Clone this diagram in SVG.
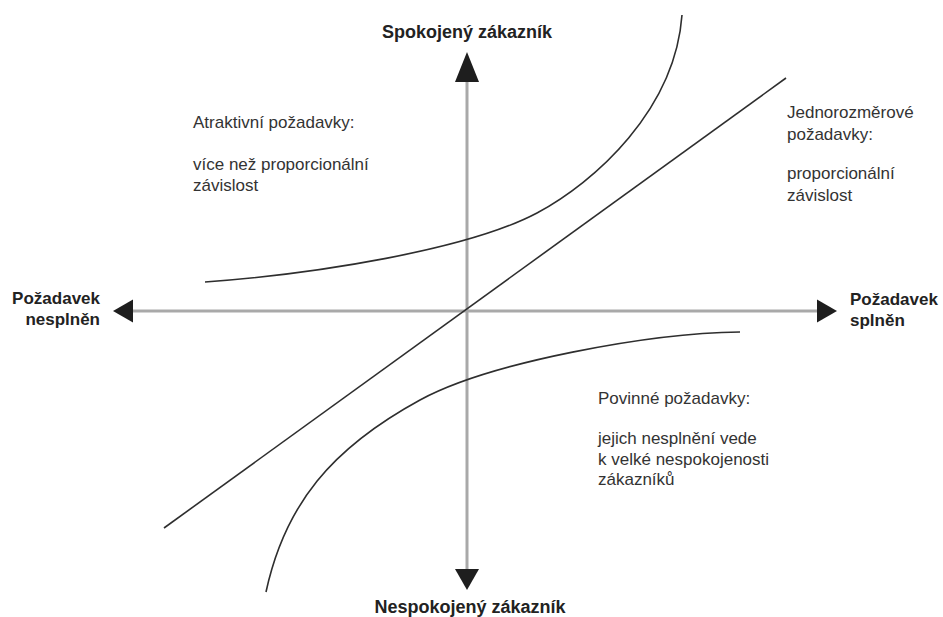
<svg xmlns="http://www.w3.org/2000/svg" width="943" height="617" viewBox="0 0 943 617">
<style>
.axis{stroke:#a9a9a9;stroke-width:3;fill:none}
.curve{stroke:#2e2e2e;stroke-width:1.6;fill:none}
.head{fill:#1e1e1e}
.lbl{font-family:"Liberation Sans",Arial,sans-serif;font-weight:bold;fill:#222}
.txt{font-family:"Liberation Sans",Arial,sans-serif;font-size:17px;fill:#333}
</style>
<rect width="943" height="617" fill="#fff"/>
<g id="connectors">
<line class="axis" x1="133" y1="311" x2="817" y2="311"/>
<line class="axis" x1="467" y1="80" x2="467" y2="570"/>
<polygon class="head" points="467,52 455,82 479,82"/>
<polygon class="head" points="467,590 455,569 479,569"/>
<polygon class="head" points="113,311 133,299.5 133,322.5"/>
<polygon class="head" points="837,311 817,299.5 817,322.5"/>
<line class="curve" x1="164" y1="528" x2="786" y2="78"/>
<path class="curve" d="M205,282 C315,274 467,250 537,213 C595,182 675,110 682,15"/>
<path class="curve" d="M740,332 C650,333 490,362 420,400 C332,448 285,504 266,592"/>
</g>
<g id="top-label"><text class="lbl" font-size="18" x="467" y="38" text-anchor="middle">Spokojený zákazník</text></g>
<g id="bottom-label"><text class="lbl" font-size="18" x="470" y="613" text-anchor="middle">Nespokojený zákazník</text></g>
<g id="left-label"><text class="lbl" font-size="17" text-anchor="end"><tspan x="100" y="304">Požadavek</tspan><tspan x="100" y="325">nesplněn</tspan></text></g>
<g id="right-label"><text class="lbl" font-size="17"><tspan x="850" y="305">Požadavek</tspan><tspan x="850" y="326">splněn</tspan></text></g>
<g id="attractive"><text class="txt"><tspan x="193" y="128">Atraktivní požadavky:</tspan><tspan x="193" y="170">více než proporcionální</tspan><tspan x="193" y="190.5">závislost</tspan></text></g>
<g id="one-dimensional"><text class="txt"><tspan x="787" y="118">Jednorozměrové</tspan><tspan x="787" y="140">požadavky:</tspan><tspan x="787" y="179">proporcionální</tspan><tspan x="787" y="201">závislost</tspan></text></g>
<g id="must-be"><text class="txt"><tspan x="598" y="404">Povinné požadavky:</tspan><tspan x="598" y="444">jejich nesplnění vede</tspan><tspan x="598" y="464.5">k velké nespokojenosti</tspan><tspan x="598" y="485">zákazníků</tspan></text></g>
</svg>
